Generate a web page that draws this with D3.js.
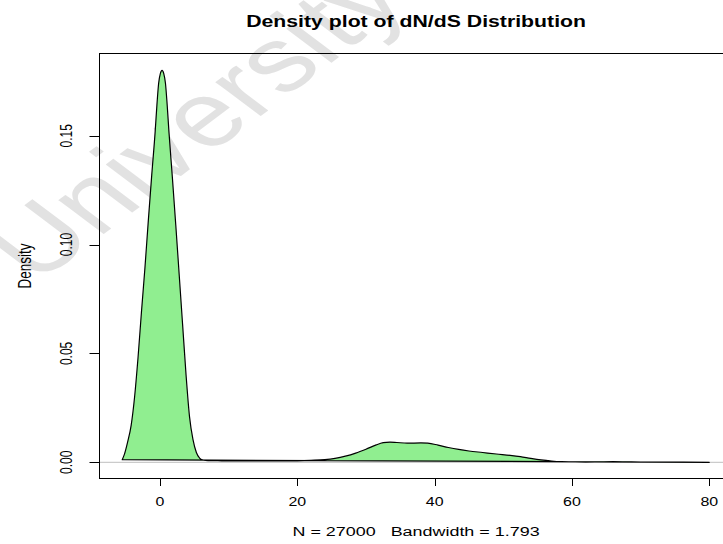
<!DOCTYPE html>
<html>
<head>
<meta charset="utf-8">
<script src="https://cdn.jsdelivr.net/npm/d3@7"></script>
<style>
  html, body { margin: 0; padding: 0; background: #fff; }
  svg { display: block; }
  text { font-family: "Liberation Sans", Arial, Helvetica, sans-serif; white-space: pre; }
</style>
</head>
<body>
<svg id="chart"></svg>
<script>
// density estimate (dN/dS value, density)
const dnds = [-5.5, -5.2, -4.7, -4.2, -3.7, -3.2, -2.7, -2.2, -1.7, -1.2, -0.7, -0.45, -0.2, 0.05, 0.3,
  0.55, 0.8, 1.05, 1.3, 1.8, 2.3, 2.8, 3.3, 3.8, 4.3, 4.8, 5.3, 5.8, 6.3, 7, 9, 12, 15, 18, 20,
  22, 24, 25.5, 27, 28.5, 30, 31.5, 32.5, 33.5, 34.5, 36, 38, 39, 40.5, 42, 43.5, 45, 47, 49, 51,
  52.5, 54, 55.5, 57, 58.5, 60, 62, 64, 66, 68, 70, 74, 80];
const density = [0.0012, 0.0035, 0.0095, 0.017, 0.030, 0.048, 0.069, 0.089, 0.111, 0.132, 0.152, 0.164, 0.174, 0.1785, 0.180,
  0.1785, 0.174, 0.164, 0.152, 0.131, 0.109, 0.086, 0.063, 0.040, 0.021, 0.0105, 0.0045, 0.0018, 0.0010, 0.0008, 0.0007, 0.0006, 0.0006, 0.0006, 0.0007,
  0.0009, 0.0012, 0.0018, 0.0028, 0.0042, 0.0060, 0.0080, 0.0090, 0.0093, 0.0091, 0.0088, 0.0089, 0.0088, 0.0079, 0.0068, 0.0059, 0.0052, 0.0045, 0.0038, 0.0032,
  0.0026, 0.0018, 0.0011, 0.0006, 0.0003, 0.0002, 0.0001, 0.0002, 0.0003, 0.0002, 0.0001, 0.0001, 0.0];

const xTicks = [0, 20, 40, 60, 80];
const yTicks = [0, 0.05, 0.10, 0.15];
const yTickLabels = ["0.00", "0.05", "0.10", "0.15"];

const title = "Density plot of dN/dS Distribution";
const xLabel = "N = 27000   Bandwidth = 1.793";
const yLabel = "Density";
const watermark = "University of Cape Town";

const W = 723, H = 544;
const SX = 723 / 544; // the picture is stretched sideways

const svg = d3.select("#chart").attr("width", W).attr("height", H);

const pLeft = 99.5, pRight = 732.6, pTop = 53.5, pBottom = 478.5;

const x = d3.scaleLinear().domain([-8.81, 83.4]).range([pLeft, pRight]);
const y = d3.scaleLinear().domain([-0.00744, 0.18776]).range([pBottom, pTop]);

// helper: text drawn squashed like the original
function stext(px, py, str, size, opts = {}) {
  const g = svg.append("g")
    .attr("transform", `translate(${px},${py}) scale(${SX},1)` + (opts.rot ? ` rotate(${opts.rot})` : ""));
  return g.append("text")
    .attr("text-anchor", opts.anchor || "middle")
    .attr("font-size", size)
    .attr("font-weight", opts.bold ? "bold" : "normal")
    .attr("fill", opts.fill || "#000")
    .text(str);
}

/* watermark, behind everything */
stext(36, 285, watermark, 91, { rot: -45, anchor: "start", fill: "#e2e2e2" });

/* clip to plot region */
svg.append("clipPath").attr("id", "plotClip")
  .append("rect").attr("x", pLeft).attr("y", pTop)
  .attr("width", pRight - pLeft).attr("height", pBottom - pTop);

const plot = svg.append("g").attr("clip-path", "url(#plotClip)");

// zero line
plot.append("line")
  .attr("x1", pLeft).attr("x2", pRight)
  .attr("y1", y(0)).attr("y2", y(0))
  .attr("stroke", "#bebebe").attr("stroke-width", 1);

const pts = dnds.map((v, i) => [v, density[i]]);
const line = d3.line()
  .x(d => x(d[0]))
  .y(d => y(d[1]))
  .curve(d3.curveMonotoneX);

plot.append("path")
  .attr("d", line(pts) + "Z")
  .attr("fill", "#90ee90")
  .attr("stroke", "#000")
  .attr("stroke-width", 1.2)
  .attr("stroke-linejoin", "round");

/* box */
svg.append("rect")
  .attr("x", pLeft).attr("y", pTop)
  .attr("width", pRight - pLeft).attr("height", pBottom - pTop)
  .attr("fill", "none").attr("stroke", "#000").attr("stroke-width", 1);

/* x axis ticks */
svg.selectAll("line.xtick")
  .data(xTicks).enter().append("line")
  .attr("class", "xtick")
  .attr("x1", d => Math.round(x(d)) + 0.5).attr("x2", d => Math.round(x(d)) + 0.5)
  .attr("y1", pBottom).attr("y2", pBottom + 7.5)
  .attr("stroke", "#000");

xTicks.forEach(t => stext(x(t), 506, String(t), 12));

/* y axis ticks */
svg.selectAll("line.ytick")
  .data(yTicks).enter().append("line")
  .attr("class", "ytick")
  .attr("x1", pLeft - 10).attr("x2", pLeft)
  .attr("y1", d => Math.round(y(d)) + 0.5).attr("y2", d => Math.round(y(d)) + 0.5)
  .attr("stroke", "#000");

yTicks.forEach((t, i) => stext(71.7, y(t), yTickLabels[i], 12, { rot: -90 }));

/* titles */
stext((pLeft + pRight) / 2, 26.5, title, 16, { bold: true });
stext((pLeft + pRight) / 2, 536, xLabel, 13.5);
stext(30.5, (pTop + pBottom) / 2, yLabel, 13.5, { rot: -90 });
</script>
</body>
</html>
